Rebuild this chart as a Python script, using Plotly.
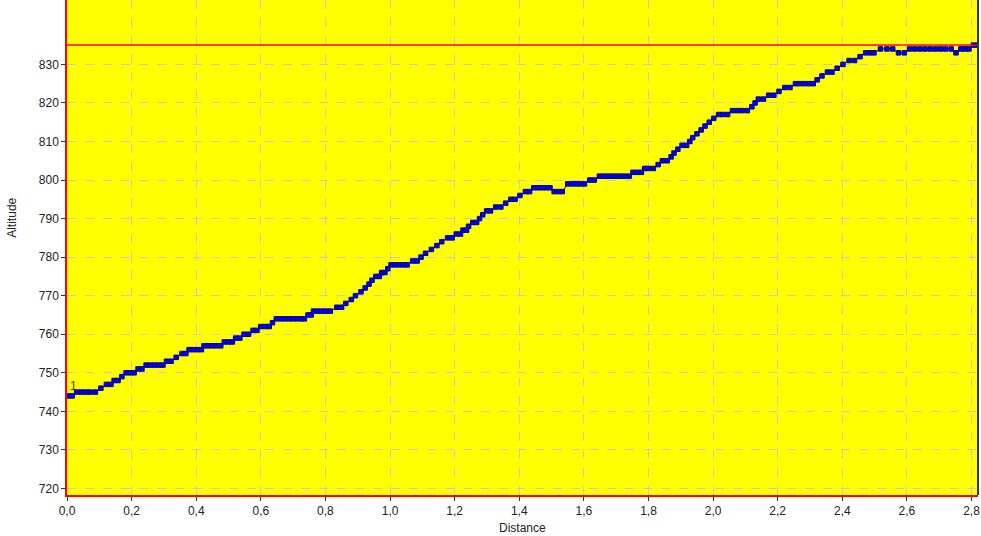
import plotly.graph_objects as go

# Altitude profile (distance in km, altitude in m)
distance = [
    0.003, 0.016,
    0.030, 0.044, 0.058, 0.072, 0.088,
    0.105,
    0.122, 0.136,
    0.146, 0.158,
    0.170,
    0.183, 0.196, 0.208,
    0.220, 0.232,
    0.245, 0.258, 0.271, 0.284, 0.297,
    0.308, 0.322,
    0.338,
    0.356, 0.368,
    0.378, 0.391, 0.404, 0.416,
    0.424, 0.437, 0.450, 0.463, 0.476,
    0.487, 0.500, 0.512,
    0.522, 0.535,
    0.548, 0.562,
    0.576, 0.588,
    0.600, 0.614, 0.626,
    0.636,
    0.648, 0.661, 0.674, 0.687, 0.700, 0.713, 0.726, 0.735,
    0.746, 0.756,
    0.763, 0.776, 0.789, 0.802, 0.815,
    0.835, 0.850,
    0.863, 0.880, 0.893, 0.910, 0.923, 0.935, 0.944,
    0.956, 0.967,
    0.974, 0.984,
    0.993,
    1.003, 1.016, 1.029, 1.042, 1.053,
    1.070, 1.084,
    1.096, 1.110, 1.128, 1.145, 1.160,
    1.178, 1.192,
    1.205, 1.218,
    1.226, 1.237,
    1.243,
    1.256, 1.268,
    1.277, 1.287,
    1.299, 1.311,
    1.327, 1.343,
    1.358,
    1.374, 1.387,
    1.402,
    1.419, 1.432,
    1.445, 1.458, 1.471, 1.484, 1.495,
    1.508, 1.521, 1.533,
    1.550, 1.563, 1.576, 1.589, 1.602,
    1.618, 1.632,
    1.648, 1.661, 1.674, 1.687, 1.700, 1.713, 1.726, 1.740,
    1.752, 1.765, 1.778,
    1.788, 1.800, 1.815,
    1.830,
    1.843, 1.858,
    1.870, 1.879, 1.891,
    1.904, 1.918,
    1.928, 1.937, 1.950, 1.963, 1.975, 1.988, 2.002,
    2.017, 2.030, 2.045,
    2.060, 2.075, 2.090, 2.106,
    2.120, 2.130,
    2.140, 2.156,
    2.172, 2.188,
    2.204,
    2.222, 2.238,
    2.255, 2.268, 2.282, 2.296, 2.310,
    2.322, 2.337,
    2.354, 2.368,
    2.384, 2.402,
    2.421, 2.438,
    2.455,
    2.472, 2.486, 2.498,
    2.518, 2.538, 2.556,
    2.574, 2.592,
    2.608, 2.624, 2.640, 2.656, 2.672, 2.688, 2.704, 2.720, 2.737,
    2.752,
    2.767, 2.780, 2.792,
    2.806, 2.820,
]

altitude = [
    744, 744,
    745, 745, 745, 745, 745,
    746,
    747, 747,
    748, 748,
    749,
    750, 750, 750,
    751, 751,
    752, 752, 752, 752, 752,
    753, 753,
    754,
    755, 755,
    756, 756, 756, 756,
    757, 757, 757, 757, 757,
    758, 758, 758,
    759, 759,
    760, 760,
    761, 761,
    762, 762, 762,
    763,
    764, 764, 764, 764, 764, 764, 764, 764,
    765, 765,
    766, 766, 766, 766, 766,
    767, 767,
    768, 769, 770, 771, 772, 773, 774,
    775, 775,
    776, 776,
    777,
    778, 778, 778, 778, 778,
    779, 779,
    780, 781, 782, 783, 784,
    785, 785,
    786, 786,
    787, 787,
    788,
    789, 789,
    790, 791,
    792, 792,
    793, 793,
    794,
    795, 795,
    796,
    797, 797,
    798, 798, 798, 798, 798,
    797, 797, 797,
    799, 799, 799, 799, 799,
    800, 800,
    801, 801, 801, 801, 801, 801, 801, 801,
    802, 802, 802,
    803, 803, 803,
    804,
    805, 805,
    806, 807, 808,
    809, 809,
    810, 811, 812, 813, 814, 815, 816,
    817, 817, 817,
    818, 818, 818, 818,
    819, 820,
    821, 821,
    822, 822,
    823,
    824, 824,
    825, 825, 825, 825, 825,
    826, 827,
    828, 828,
    829, 830,
    831, 831,
    832,
    833, 833, 833,
    834, 834, 834,
    833, 833,
    834, 834, 834, 834, 834, 834, 834, 834, 834,
    833,
    834, 834, 834,
    835, 835,
]

x_ticks = [0.0, 0.2, 0.4, 0.6, 0.8, 1.0, 1.2, 1.4, 1.6, 1.8, 2.0, 2.2, 2.4, 2.6, 2.8]
y_ticks = [720, 730, 740, 750, 760, 770, 780, 790, 800, 810, 820, 830]
max_altitude = max(altitude)

x_range = [0, 2.82]
y_range = [718.3, 846.7]

fig = go.Figure()
fig.add_trace(go.Scatter(
    x=distance, y=altitude, mode="lines+markers",
    line=dict(color="#000066", width=1),
    marker=dict(symbol="square", size=4.5, color="#0000ff",
                line=dict(color="#000088", width=1)),
    showlegend=False, hoverinfo="x+y",
))

font = dict(family="Liberation Sans, Arial, sans-serif", size=12, color="#222222")

fig.update_layout(
    width=981, height=536,
    margin=dict(l=67, r=3, t=0, b=41, autoexpand=False),
    paper_bgcolor="white",
    plot_bgcolor="#ffff00",
    separators=",.",
    font=font,
    xaxis=dict(
        range=x_range, tickvals=x_ticks, tickformat=".1f", automargin=False,
        showgrid=True, gridcolor="#c8c8c8", griddash="dash", gridwidth=1,
        zeroline=False, showline=True, linecolor="#ff0000", linewidth=1.5,
        ticks="outside", ticklen=4, tickcolor="#333333",
    ),
    yaxis=dict(
        range=y_range, tickvals=y_ticks, automargin=False,
        showgrid=True, gridcolor="#c8c8c8", griddash="dash", gridwidth=1,
        zeroline=False, showline=True, linecolor="#ff0000", linewidth=1.5,
        ticks="outside", ticklen=4, tickcolor="#333333",
    ),
    shapes=[
        dict(type="line", xref="paper", yref="y", x0=0, x1=1,
             y0=max_altitude, y1=max_altitude,
             line=dict(color="#ff0000", width=1.5)),
        dict(type="line", xref="paper", yref="paper", x0=1, x1=1, y0=0, y1=1,
             line=dict(color="#333333", width=2)),
    ],
    annotations=[
        dict(text="Distance", xref="paper", yref="paper", x=0.5, y=0,
             yshift=-33, showarrow=False, xanchor="center", yanchor="middle",
             font=font),
        dict(text="Altitude", xref="paper", yref="paper", x=0, y=0.56,
             xshift=-55, showarrow=False, textangle=-90,
             xanchor="center", yanchor="middle", font=font),
        dict(text="1", xref="x", yref="y", x=0, y=746.7, xshift=1,
             showarrow=False, xanchor="left", yanchor="middle",
             font=dict(family="Liberation Sans, Arial, sans-serif", size=12,
                       color="#333300")),
    ],
)

fig.write_html(
    "out.html",
    config={"displayModeBar": False},
    post_script="document.body.style.margin='0';document.body.style.overflow='hidden';",
)
